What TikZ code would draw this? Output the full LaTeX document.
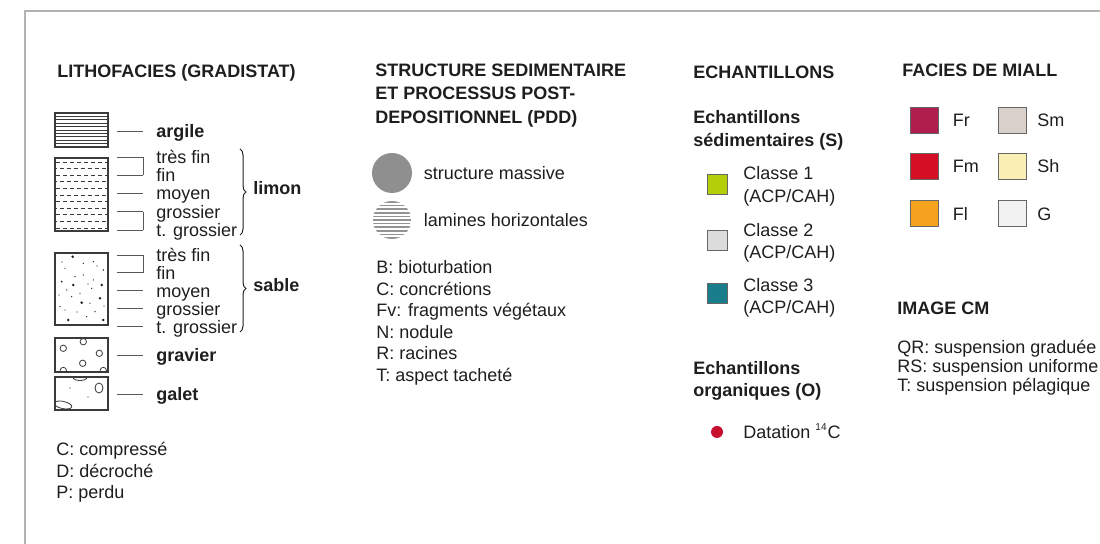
\documentclass[tikz,border=0pt]{standalone}
\usepackage{fontspec}
\setmainfont{Liberation Sans}
\usetikzlibrary{positioning,decorations.pathreplacing}
\definecolor{inkgray}{HTML}{1E1E1E}
\definecolor{boxgray}{HTML}{3A3A3A}
\definecolor{cls1}{HTML}{B4CF0A}
\definecolor{cls2}{HTML}{DCDCDC}
\definecolor{cls3}{HTML}{1A7D8C}
\definecolor{c14dot}{HTML}{C8102E}
\definecolor{miallFr}{HTML}{B01E4E}
\definecolor{miallFm}{HTML}{D40F25}
\definecolor{miallFl}{HTML}{F5A21E}
\definecolor{miallSm}{HTML}{D9D0C9}
\definecolor{miallSh}{HTML}{FAF0B4}
\definecolor{miallG}{HTML}{F2F2F2}
\tikzset{
    legtext/.style={
        anchor=west,
        inner sep=0pt,
        text height=6.5pt,
        text depth=0pt,
        text=inkgray,
        font=\fontsize{9}{9.2}\selectfont
    },
    legbold/.style={
        legtext,
        font=\fontsize{9}{9.2}\selectfont\bfseries
    },
    lithobox/.style={
        rectangle,
        draw=boxgray,
        line width=0.6pt,
        minimum width=26.5pt,
        inner sep=0pt
    },
    swatch/.style={
        rectangle,
        draw=gray!80!black,
        line width=0.5pt,
        minimum size=10pt,
        inner sep=0pt
    },
    miall/.style={
        swatch,
        minimum width=14pt,
        minimum height=13pt
    },
    leader/.style={
        draw=gray!70!black,
        line width=0.4pt
    },
    legbrace/.style={
        draw=inkgray,
        line width=0.5pt,
        decorate,
        decoration={brace, amplitude=3pt}
    },
    pebble/.style={
        draw=boxgray,
        line width=0.4pt
    },
    framerule/.style={
        draw=gray!60,
        line width=0.8pt
    }
}

\begin{document}
\begin{tikzpicture}[x=0.5pt, y=-0.5pt]
    \useasboundingbox (0,0) rectangle (1100,544);
    \draw[framerule] (25,544) -- (25,11) -- (1100,11);

    % --- lithofacies ---
    \node[legbold] (lithohd) at (57,71) {LITHOFACIES (GRADISTAT)};

    \foreach \k in {1,...,9}
        \draw[boxgray, line width=0.4pt] (55,{113+\k*3.4}) -- (108,{113+\k*3.4});
    \node[lithobox, minimum height=17pt] (argbox) at (81.5,130) {};

    \foreach \k in {0,...,10} {
        \pgfmathsetmacro\ph{mod(\k,2)*1.75}
        \draw[boxgray, line width=0.4pt, dash pattern=on 2pt off 1.5pt, dash phase=\ph pt]
            (56,{162+\k*6.6}) -- (107,{162+\k*6.6});
    }
    \node[lithobox, minimum height=36.5pt] (limbox) at (81.5,194.5) {};

    \foreach \px/\py/\r in {72.7/256.7/0.7, 93.3/261.7/0.35, 65/268.3/0.35, 83.3/263.3/0.35,
        103.3/270/0.4, 75/276.7/0.35, 61.7/281.7/0.5, 83.3/275/0.35, 93.3/280/0.35,
        66.7/290/0.35, 73.3/285/0.7, 101.7/285/0.7, 91.7/288.3/0.35, 80/293.3/0.35,
        100/298.3/0.7, 71.7/296.7/0.35, 81.7/302.7/0.7, 90/303.3/0.35, 65/310/0.35,
        95/311.7/0.35, 68.3/320/0.7, 103.3/320/0.7, 60/306.7/0.35, 86.7/316.7/0.35,
        97/266/0.3, 62/262/0.3, 88/284/0.3, 77/312/0.3, 59/295/0.3, 104/306/0.3}
        \fill[inkgray] (\px,\py) circle[radius=\r pt];
    \node[lithobox, minimum height=36pt] (sabbox) at (81.5,289) {};

    \begin{scope}
        \clip (55,338) rectangle (108,372);
        \foreach \px/\py in {63.3/348.3, 83.3/341.7, 99.3/353.3, 82.7/363.3, 63.3/370.5, 103.3/370.5}
            \draw[pebble] (\px,\py) circle[radius=1.6pt];
    \end{scope}
    \node[lithobox, minimum height=17pt] (gravbox) at (81.5,355) {};

    \begin{scope}
        \clip (55,377) rectangle (108,410);
        \draw[pebble] (99,388) ellipse[x radius=2pt, y radius=2.5pt];
        \draw[pebble, rotate around={-12:(63,405)}] (63,405) ellipse[x radius=4.5pt, y radius=1.8pt];
        \draw[pebble] (80,377.5) ellipse[x radius=3.5pt, y radius=1.5pt];
        \fill[inkgray] (70,388) circle[radius=0.3pt];
        \fill[inkgray] (88,397) circle[radius=0.3pt];
    \end{scope}
    \node[lithobox, minimum height=16.5pt] (galbox) at (81.5,393.5) {};

    \node[legbold] (argl) at (156,131) {argile};
    \draw[leader] ([xshift=-19.5pt]argl.west) -- ([xshift=-6.5pt]argl.west);

    \foreach \t [count=\i] in {très fin, fin, moyen, grossier, t. grossier} {
        \node[legtext] (lim\i) at (156,{157+(\i-1)*18.25}) {\t};
        \draw[leader] ([xshift=-19.5pt]lim\i.west) -- ([xshift=-6.5pt]lim\i.west);
    }
    \draw[leader] ([xshift=-6.5pt]lim1.west) -- ([xshift=-6.5pt]lim2.west);
    \draw[leader] ([xshift=-6.5pt]lim4.west) -- ([xshift=-6.5pt]lim5.west);
    \draw[legbrace] (240,149) -- (240,235);
    \node[legbold] (liml) at (253,188) {limon};

    \foreach \t [count=\i] in {très fin, fin, moyen, grossier, t. grossier} {
        \node[legtext] (sab\i) at (156,{255+(\i-1)*17.9}) {\t};
        \draw[leader] ([xshift=-19.5pt]sab\i.west) -- ([xshift=-6.5pt]sab\i.west);
    }
    \draw[leader] ([xshift=-6.5pt]sab1.west) -- ([xshift=-6.5pt]sab2.west);
    \draw[legbrace] (240,245) -- (240,332);
    \node[legbold] (sabl) at (253,285) {sable};

    \node[legbold] (gravl) at (156,355) {gravier};
    \draw[leader] ([xshift=-19.5pt]gravl.west) -- ([xshift=-6.5pt]gravl.west);
    \node[legbold] (gall) at (156,394) {galet};
    \draw[leader] ([xshift=-19.5pt]gall.west) -- ([xshift=-6.5pt]gall.west);

    \node[legtext] (compr) at (56,449) {C: compressé};
    \node[legtext] (decro) at (56,471) {D: décroché};
    \node[legtext] (perdu) at (56,492) {P: perdu};

    % --- structures sedimentaires ---
    \node[legbold] (pddA) at (375,70) {STRUCTURE SEDIMENTAIRE};
    \node[legbold] (pddB) at (375,93.5) {ET PROCESSUS POST-};
    \node[legbold] (pddC) at (375,117) {DEPOSITIONNEL (PDD)};

    \node[circle, fill=gray!88, minimum size=20pt, inner sep=0pt] (massive) at (392,173) {};
    \node[legtext, right=5.5pt of massive] (massl) {structure massive};
    \node[circle, minimum size=19pt, inner sep=0pt,
        path picture={
            \foreach \k in {-5,...,5}
                \draw[gray!85, line width=0.8pt]
                    ([yshift=\k*1.8pt]path picture bounding box.west) --
                    ([yshift=\k*1.8pt]path picture bounding box.east);
        }] (lamines) at (392,220) {};
    \node[legtext, right=6pt of lamines] (laml) {lamines horizontales};

    \foreach \t [count=\i] in {B: bioturbation, C: concrétions, Fv: fragments végétaux,
        N: nodule, R: racines, T: aspect tacheté}
        \node[legtext] (pdd\i) at (376,{267+(\i-1)*21.6}) {\t};

    % --- echantillons ---
    \node[legbold] (echhd) at (693,72) {ECHANTILLONS};
    \node[legbold] (sedA) at (693,117) {Echantillons};
    \node[legbold] (sedB) at (693,140) {sédimentaires (S)};

    \node[swatch, fill=cls1] (cl1) at (717,185) {};
    \node[legtext] (cl1a) at (743,173) {Classe 1};
    \node[legtext] (cl1b) at (743,196) {(ACP/CAH)};
    \node[swatch, fill=cls2] (cl2) at (717,241) {};
    \node[legtext] (cl2a) at (743,230) {Classe 2};
    \node[legtext] (cl2b) at (743,252) {(ACP/CAH)};
    \node[swatch, fill=cls3] (cl3) at (717,294) {};
    \node[legtext] (cl3a) at (743,285) {Classe 3};
    \node[legtext] (cl3b) at (743,307) {(ACP/CAH)};

    \node[legbold] (orgA) at (693,368) {Echantillons};
    \node[legbold] (orgB) at (693,390) {organiques (O)};
    \node[circle, fill=c14dot, minimum size=6pt, inner sep=0pt] (c14) at (717,432) {};
    \node[legtext] (c14l) at (743,432) {Datation \textsuperscript{\fontsize{5}{5}\selectfont 14}C};

    % --- facies de Miall ---
    \node[legbold] (miallhd) at (902,70) {FACIES DE MIALL};
    \node[miall, fill=miallFr] (fr) at (924,120.5) {};
    \node[miall, fill=miallFm] (fm) at (924,166.5) {};
    \node[miall, fill=miallFl] (fl) at (924,214) {};
    \node[miall, fill=miallSm] (sm) at (1012.5,120.5) {};
    \node[miall, fill=miallSh] (sh) at (1012.5,166.5) {};
    \node[miall, fill=miallG] (gg) at (1012.5,214) {};
    \node[legtext, right=7pt of fr] (frl) {Fr};
    \node[legtext, right=7pt of fm] (fml) {Fm};
    \node[legtext, right=7pt of fl] (fll) {Fl};
    \node[legtext, right=5pt of sm] (sml) {Sm};
    \node[legtext, right=5pt of sh] (shl) {Sh};
    \node[legtext, right=5pt of gg] (ggl) {G};

    % --- image CM ---
    \node[legbold] (cmhd) at (897,308) {IMAGE CM};
    \node[legtext] (cmqr) at (897,347) {QR: suspension graduée};
    \node[legtext] (cmrs) at (897,366) {RS: suspension uniforme};
    \node[legtext] (cmt) at (897,385) {T: suspension pélagique};
\end{tikzpicture}
\end{document}
